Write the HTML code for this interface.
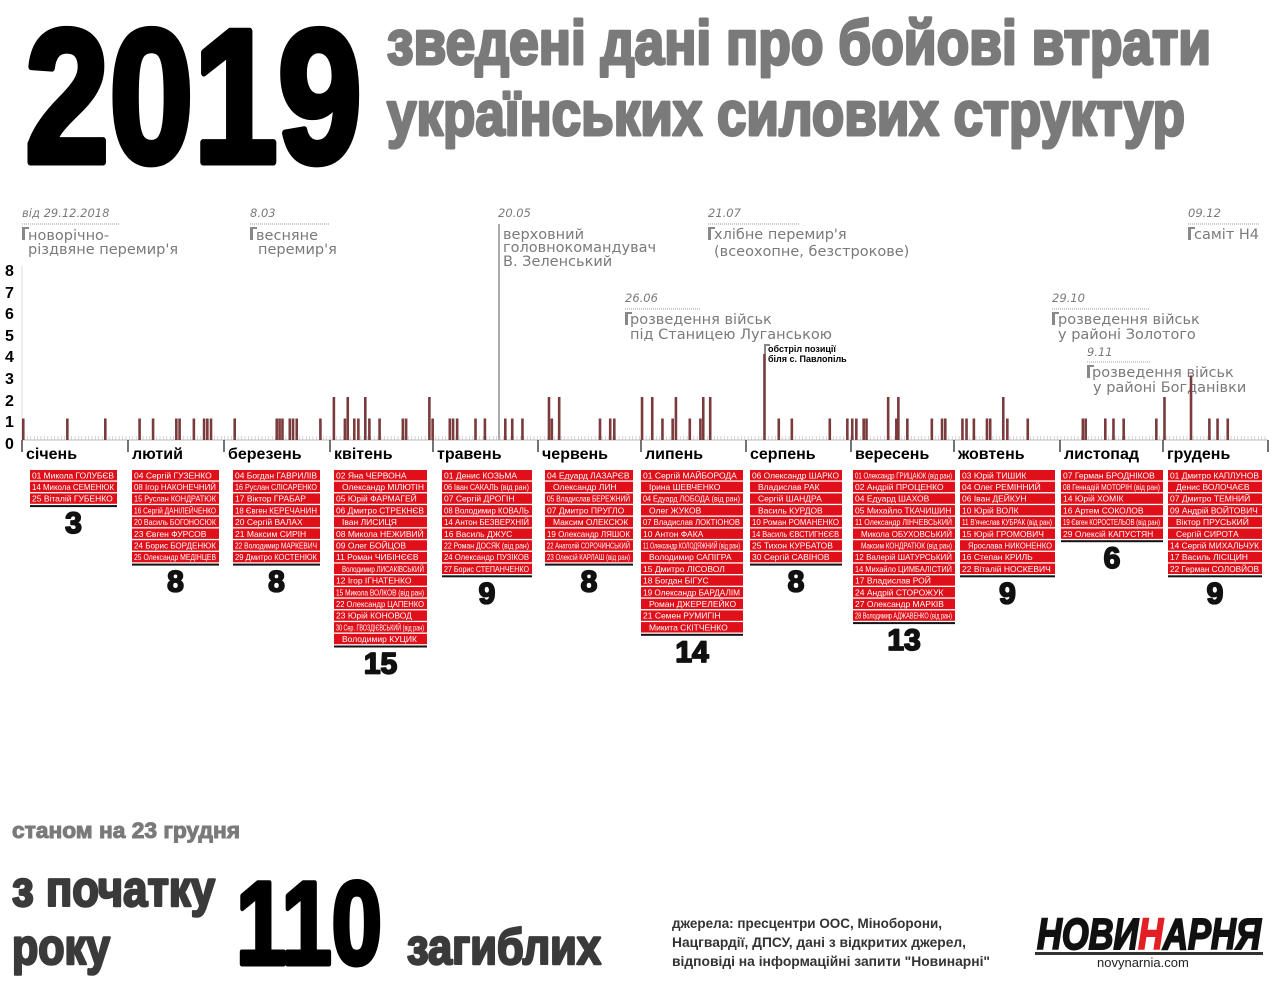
<!DOCTYPE html>
<html><head><meta charset="utf-8"><style>
html,body{margin:0;padding:0;background:#fff;width:1280px;height:985px;overflow:hidden}
svg{display:block}
.c{font-family:"Liberation Sans Narrow","Liberation Sans",sans-serif;font-weight:bold}
.a{font-family:"DejaVu Sans","Liberation Sans",sans-serif;fill:#7a7a7a;font-size:14.5px}
.d{font-family:"DejaVu Sans","Liberation Sans",sans-serif;fill:#7a7a7a;font-size:11.5px;font-style:italic}
.m{font-family:"Liberation Sans",sans-serif;font-weight:bold;font-size:16px;fill:#000}
.y{font-family:"Liberation Sans",sans-serif;font-weight:bold;font-size:16px;fill:#000}
.n{font-family:"Liberation Sans Narrow","Liberation Sans",sans-serif;font-size:8.5px;fill:#fff}
</style></head><body>
<svg id="s" width="1280" height="985" xmlns="http://www.w3.org/2000/svg">
<text class="c" x="25" y="162" font-size="190" textLength="337" lengthAdjust="spacingAndGlyphs" fill="#000" stroke="#000" stroke-width="7" stroke-linejoin="round">2019</text>
<text class="c" x="387" y="64" font-size="62" textLength="824" lengthAdjust="spacingAndGlyphs" fill="#7a7a7a" stroke="#7a7a7a" stroke-width="3" stroke-linejoin="round">зведені дані про бойові втрати</text>
<text class="c" x="387" y="135" font-size="62" textLength="798" lengthAdjust="spacingAndGlyphs" fill="#7a7a7a" stroke="#7a7a7a" stroke-width="3" stroke-linejoin="round">українських силових структур</text>

<g id="ann">
<text class="d" x="22" y="217">від 29.12.2018</text>
<line x1="22" y1="224" x2="120" y2="224" stroke="#999" stroke-dasharray="1,1"/>
<rect x="22" y="227" width="3" height="13" fill="#888"/><rect x="22" y="227" width="7" height="2" fill="#888"/>
<text class="a" x="28" y="240">новорічно-</text><text class="a" x="28" y="254">різдвяне перемир'я</text>
<text class="d" x="250" y="217">8.03</text>
<line x1="250" y1="224" x2="330" y2="224" stroke="#999" stroke-dasharray="1,1"/>
<rect x="250" y="227" width="3" height="13" fill="#888"/><rect x="250" y="227" width="7" height="2" fill="#888"/>
<text class="a" x="256" y="240">весняне</text><text class="a" x="258" y="254">перемир'я</text>
<text class="d" x="498" y="217">20.05</text>
<line x1="499" y1="224" x2="499" y2="440" stroke="#aaa" stroke-width="2"/>
<text class="a" x="503" y="239">верховний</text><text class="a" x="503" y="252">головнокомандувач</text><text class="a" x="503" y="266">В. Зеленський</text>
<text class="d" x="708" y="217">21.07</text>
<line x1="708" y1="224" x2="800" y2="224" stroke="#999" stroke-dasharray="1,1"/>
<rect x="708" y="227" width="3" height="13" fill="#888"/><rect x="708" y="227" width="7" height="2" fill="#888"/>
<text class="a" x="714" y="239">хлібне перемир'я</text><text class="a" x="714" y="256">(всеохопне, безстрокове)</text>
<text class="d" x="1188" y="217">09.12</text>
<line x1="1188" y1="224" x2="1260" y2="224" stroke="#999" stroke-dasharray="1,1"/>
<rect x="1188" y="227" width="3" height="13" fill="#888"/><rect x="1188" y="227" width="7" height="2" fill="#888"/>
<text class="a" x="1194" y="239">саміт Н4</text>
<text class="d" x="625" y="302">26.06</text>
<line x1="625" y1="309" x2="700" y2="309" stroke="#999" stroke-dasharray="1,1"/>
<rect x="625" y="312" width="3" height="13" fill="#888"/><rect x="625" y="312" width="7" height="2" fill="#888"/>
<text class="a" x="630" y="324">розведення військ</text><text class="a" x="630" y="339">під Станицею Луганською</text>
<rect x="764" y="344" width="2" height="10" fill="#888"/><rect x="764" y="344" width="6" height="2" fill="#888"/>
<text x="768" y="352" font-family="Liberation Sans,sans-serif" font-weight="bold" font-size="9">обстріл позиції</text>
<text x="768" y="362" font-family="Liberation Sans,sans-serif" font-weight="bold" font-size="9">біля с. Павлопіль</text>
<text class="d" x="1052" y="302">29.10</text>
<line x1="1052" y1="309" x2="1150" y2="309" stroke="#999" stroke-dasharray="1,1"/>
<rect x="1052" y="312" width="3" height="13" fill="#888"/><rect x="1052" y="312" width="7" height="2" fill="#888"/>
<text class="a" x="1058" y="324">розведення військ</text><text class="a" x="1058" y="339">у районі Золотого</text>
<text class="d" x="1087" y="356">9.11</text>
<line x1="1087" y1="362" x2="1150" y2="362" stroke="#999" stroke-dasharray="1,1"/>
<rect x="1087" y="365" width="3" height="13" fill="#888"/><rect x="1087" y="365" width="7" height="2" fill="#888"/>
<text class="a" x="1092" y="377">розведення військ</text><text class="a" x="1093" y="392">у районі Богданівки</text>
</g>

<g id="ax">
<line x1="22" y1="266" x2="22" y2="440" stroke="#ddd"/>
<line x1="22" y1="440" x2="1268" y2="440" stroke="#bbb"/>
<text class="y" x="5" y="276">8</text><text class="y" x="5" y="298">7</text><text class="y" x="5" y="319">6</text><text class="y" x="5" y="341">5</text><text class="y" x="5" y="362">4</text><text class="y" x="5" y="384">3</text><text class="y" x="5" y="406">2</text><text class="y" x="5" y="427">1</text><text class="y" x="5" y="449">0</text>
</g>
<g id="bars"></g><g id="lists"></g>

<text class="c" x="12" y="838" font-size="22" textLength="228" lengthAdjust="spacingAndGlyphs" fill="#7a7a7a" stroke="#7a7a7a" stroke-width="1">станом на 23 грудня</text>
<text class="c" x="12" y="906" font-size="50" textLength="203" lengthAdjust="spacingAndGlyphs" fill="#3a3a3a" stroke="#3a3a3a" stroke-width="2.5" stroke-linejoin="round">з початку</text>
<text class="c" x="12" y="964" font-size="50" textLength="98" lengthAdjust="spacingAndGlyphs" fill="#3a3a3a" stroke="#3a3a3a" stroke-width="2.5" stroke-linejoin="round">року</text>
<text class="c" x="236" y="964" font-size="118" textLength="146" lengthAdjust="spacingAndGlyphs" fill="#000" stroke="#000" stroke-width="5" stroke-linejoin="round">110</text>
<text class="c" x="407" y="964" font-size="50" textLength="194" lengthAdjust="spacingAndGlyphs" fill="#3a3a3a" stroke="#3a3a3a" stroke-width="2.5" stroke-linejoin="round">загиблих</text>
<text class="c" x="672" y="928" font-size="14" textLength="270" lengthAdjust="spacingAndGlyphs" fill="#333">джерела: пресцентри ООС, Міноборони,</text>
<text class="c" x="672" y="947" font-size="14" textLength="294" lengthAdjust="spacingAndGlyphs" fill="#333">Нацгвардії, ДПСУ, дані з відкритих джерел,</text>
<text class="c" x="672" y="966" font-size="14" textLength="318" lengthAdjust="spacingAndGlyphs" fill="#333">відповіді на інформаційні запити "Новинарні"</text>
<text class="c" x="1037" y="949" font-size="44" font-style="italic" textLength="224" lengthAdjust="spacingAndGlyphs" fill="#111" stroke="#111" stroke-width="2">НОВИ<tspan fill="#e31e24" stroke="#e31e24">Н</tspan>АРНЯ</text>
<rect x="1035" y="952" width="228" height="3" fill="#333"/>
<text x="1097" y="967" font-family="Liberation Sans Narrow,Liberation Sans,sans-serif" font-size="13" fill="#222">novynarnia.com</text>
</svg>
<script>
var NS="http://www.w3.org/2000/svg";
function el(p,t,a,txt){var e=document.createElementNS(NS,t);for(var k in a)e.setAttribute(k,a[k]);if(txt!=null)e.textContent=txt;p.appendChild(e);return e;}
var b=document.getElementById('bars');
for(var x=24;x<1268;x+=3.4)el(b,'line',{x1:x,y1:436,x2:x,y2:440,stroke:'#bbb','stroke-width':0.6});
var z1=[[57,1],[165,1],[258,1],[342,1],[375,1],[432,1],[440,1],[475,1],[500,1],[508,1],[517,1],[575,1],[678,1],[685,1],[692,1],[710,1],[718,1],[727,1],[785,1],[818,2],[845,1],[852,2],[868,1],[878,1],[895,2],[905,1],[930,1],[987,1],[995,1],[1052,2],[1060,1],[1102,1],[1110,1],[1120,1],[1165,1],[1188,1],[1238,1],[1255,1],[1280,1],[1345,2],[1352,1],[1370,2],[1470,1],[1495,1],[1505,1]];
var z2=[[5,2],[30,2],[55,1],[80,1],[88,2],[122,1],[148,1],[155,2],[172,2],[305,4],[340,1],[372,1],[465,1],[508,1],[520,1],[530,1],[548,1],[555,1],[608,2],[628,1],[633,2],[655,1],[715,1],[740,1],[748,1],[790,1],[800,1],[818,1],[850,1],[858,1],[890,2],[900,1],[950,1],[1085,1],[1092,1],[1140,1],[1160,1],[1185,1],[1265,1],[1285,2],[1350,3],[1395,1],[1415,1],[1440,1]];
function bar(x,v){el(b,'rect',{x:x-1.3,y:440-21.5*v,width:2.6,height:21.5*v,fill:'#7b3a3c'});}
z1.forEach(function(p){bar(p[0]/2.45,p[1]);});
z2.forEach(function(p){bar(640+p[0]/2.45,p[1]);});
var seps=[22,128,224,330,433,538,641,746,851,954,1060,1163,1268];
seps.forEach(function(x){el(b,'line',{x1:x,y1:440,x2:x,y2:452,stroke:'#444','stroke-width':1.5});});
var months=['січень','лютий','березень','квітень','травень','червень','липень','серпень','вересень','жовтень','листопад','грудень'];
months.forEach(function(m,i){el(b,'text',{'class':'m',x:seps[i]+4,y:459},m);});
var L=document.getElementById('lists');
var cols=[
[30,117,['01 Микола ГОЛУБЄВ','14 Микола СЕМЕНЮК','25 Віталій ГУБЕНКО']],
[132,219,['04 Сергій ГУЗЕНКО','08 Ігор НАКОНЕЧНИЙ','15 Руслан КОНДРАТЮК','16 Сергій ДАНІЛЕЙЧЕНКО','20 Василь БОГОНОСЮК','23 Євген ФУРСОВ','24 Борис БОРДЕНЮК','25 Олександр МЕДІНЦЕВ']],
[233,320,['04 Богдан ГАВРИЛІВ','16 Руслан СЛІСАРЕНКО','17 Віктор ГРАБАР','18 Євген КЕРЕЧАНИН','20 Сергій ВАЛАХ','21 Максим СИРІН','22 Володимир МАРКЕВИЧ','29 Дмитро КОСТЕНЮК']],
[334,427,['02 Яна ЧЕРВОНА','   Олександр МІЛЮТІН','05 Юрій ФАРМАГЕЙ','06 Дмитро СТРЕКНЄВ','   Іван ЛИСИЦЯ','08 Микола НЕЖИВИЙ','09 Олег БОЙЦОВ','11 Роман ЧИБІНЄЄВ','   Володимир ЛИСАКІВСЬКИЙ','12 Ігор ІГНАТЕНКО','15 Микола ВОЛКОВ (від ран)','22 Олександр ЦАПЕНКО','23 Юрій КОНОВОД','30 Сер. ГВОЗДІЄВСЬКИЙ (від ран)','   Володимир КУЦИК']],
[442,532,['01 Денис КОЗЬМА','06 Іван САКАЛЬ (від ран)','07 Сергій ДРОГІН','08 Володимир КОВАЛЬ','14 Антон БЕЗВЕРХНІЙ','16 Василь ДЖУС','22 Роман ДОСЯК (від ран)','24 Олександр ПУЗІКОВ','27 Борис СТЕПАНЧЕНКО']],
[545,633,['04 Едуард ЛАЗАРЄВ','   Олександр ЛИН','05 Владислав БЕРЕЖНИЙ','07 Дмитро ПРУГЛО','   Максим ОЛЕКСЮК','19 Олександр ЛЯШОК','22 Анатолій СОРОЧИНСЬКИЙ','23 Олексій КАРЛАШ (від ран)']],
[641,743,['01 Сергій МАЙБОРОДА','   Ірина ШЕВЧЕНКО','04 Едуард ЛОБОДА (від ран)','   Олег ЖУКОВ','07 Владислав ЛОКТІОНОВ','10 Антон ФАКА','11 Олександр КОЛОДЯЖНИЙ (від ран)','   Володимир САПІГРА','15 Дмитро ЛІСОВОЛ','18 Богдан БІГУС','19 Олександр БАРДАЛІМ','   Роман ДЖЕРЕЛЕЙКО','21 Семен РУМИГІН','   Микита СКІТЧЕНКО']],
[750,842,['06 Олександр ШАРКО','   Владислав РАК','   Сергій ШАНДРА','   Василь КУРДОВ','10 Роман РОМАНЕНКО','14 Василь ЄВСТИГНЄЄВ','25 Тихон КУРБАТОВ','30 Сергій САВІНОВ']],
[853,955,['01 Олександр ГРИЦАЮК (від ран)','02 Андрій ПРОЦЕНКО','04 Едуард ШАХОВ','05 Михайло ТКАЧИШИН','11 Олександр ЛІНЧЕВСЬКИЙ','   Микола ОБУХОВСЬКИЙ','   Максим КОНДРАТЮК (від ран)','12 Валерій ШАТУРСЬКИЙ','14 Михайло ЦИМБАЛІСТИЙ','17 Владислав РОЙ','24 Андрій СТОРОЖУК','27 Олександр МАРКІВ','28 Володимир АДЖАВЕНКО (від ран)']],
[960,1055,['03 Юрій ТИШИК','04 Олег РЕМІННИЙ','06 Іван ДЕЙКУН','10 Юрій ВОЛК','11 В\'ячеслав КУБРАК (від ран)','15 Юрій ГРОМОВИЧ','   Ярослава НИКОНЕНКО','16 Степан КРИЛЬ','22 Віталій НОСКЕВИЧ']],
[1061,1163,['07 Герман БРОДНІКОВ','08 Геннадій МОТОРІН (від ран)','14 Юрій ХОМІК','16 Артем СОКОЛОВ','19 Євген КОРОСТЕЛЬОВ (від ран)','29 Олексій КАПУСТЯН']],
[1168,1262,['01 Дмитро КАПЛУНОВ','   Денис ВОЛОЧАЄВ','07 Дмитро ТЕМНИЙ','09 Андрій ВОЙТОВИЧ','   Віктор ПРУСЬКИЙ','   Сергій СИРОТА','14 Сергій МИХАЛЬЧУК','17 Василь ЛІСІЦИН','22 Герман СОЛОВЙОВ']]
];
var P=11.7,T=470;
cols.forEach(function(c){
 var x0=c[0],w=c[1]-c[0],n=c[2].length;
 c[2].forEach(function(s,i){
  var y=T+i*P;
  el(L,'rect',{x:x0,y:y,width:w,height:P-1.3,fill:'#e0101b'});
  var t=s.trim(),ind=s.charAt(0)==' '?8:2;
  var maxw=w-ind-3;
  var tt=el(L,'text',{'class':'n',x:x0+ind,y:y+8.3},t);
  var est=t.length*3.6;
  try{est=tt.getComputedTextLength();}catch(e){}
  if(est>maxw){tt.setAttribute('textLength',maxw);tt.setAttribute('lengthAdjust','spacingAndGlyphs');}
 });
 var ly=T+n*P;
 el(L,'rect',{x:x0,y:ly,width:w,height:2,fill:'#111'});
 el(L,'text',{'class':'c',x:x0+w/2,y:ly+28,'text-anchor':'middle','font-size':30,fill:'#111',stroke:'#111','stroke-width':1.8,'stroke-linejoin':'round'},String(n));
});
</script>
</body></html>
